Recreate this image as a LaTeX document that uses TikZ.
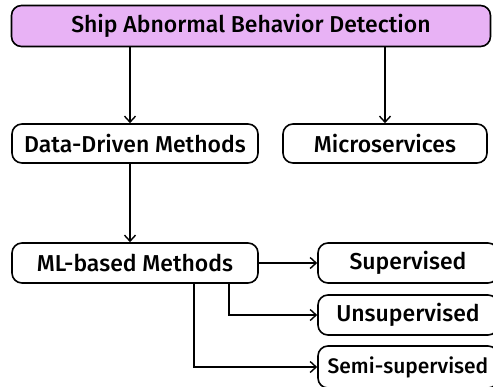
\documentclass[tikz,border=0pt]{standalone}
\usepackage{fontspec}
\setmainfont{Fira Sans}[UprightFont={* Medium}]
\usetikzlibrary{arrows.meta}
\definecolor{headfill}{RGB}{232,178,245}
\tikzset{
  box/.style={draw=black, line width=1.6pt, rounded corners=10pt, font=\fontsize{23}{26}\selectfont, inner sep=0pt},
  link/.style={draw=black, line width=1.4pt, -{Straight Barb[length=6pt,width=11pt,line width=1.4pt]}},
}
\begin{document}
\begin{tikzpicture}[x=1pt,y=-1pt]
\useasboundingbox (0,0) rectangle (493,386);
\clip (0,0) rectangle (493,386);
% boxes, given by their corners
\node[box, fill=headfill, minimum width=479pt, minimum height=41pt] (root) at (251,26) {Ship Abnormal Behavior Detection};
\node[box, minimum width=246pt, minimum height=39pt] (data) at (135,143.5) {Data-Driven Methods};
\node[box, minimum width=204pt, minimum height=39pt] (micro) at (385,143.5) {Microservices};
\node[box, minimum width=246pt, minimum height=40pt] (ml) at (135,263) {ML-based Methods};
\node[box, minimum width=180pt, minimum height=40pt] (sup) at (408,263) {Supervised};
\node[box, minimum width=180pt, minimum height=40pt] (uns) at (408,315) {Unsupervised};
\node[box, minimum width=180pt, minimum height=42pt, font=\fontsize{21}{24}\selectfont] (semi) at (408,367) {Semi-supervised};
% connectors
\draw[link] (root.south -| 130,0) -- (data.north -| 130,0);
\draw[link] (root.south -| 385,0) -- (micro.north -| 385,0);
\draw[link] (data.south -| 130,0) -- (ml.north -| 130,0);
\draw[link] (ml.east) -- (sup.west);
\draw[link] (ml.south -| 229,0) |- (uns.west);
\draw[link] (ml.south -| 194,0) |- (semi.west);
\end{tikzpicture}
\end{document}
